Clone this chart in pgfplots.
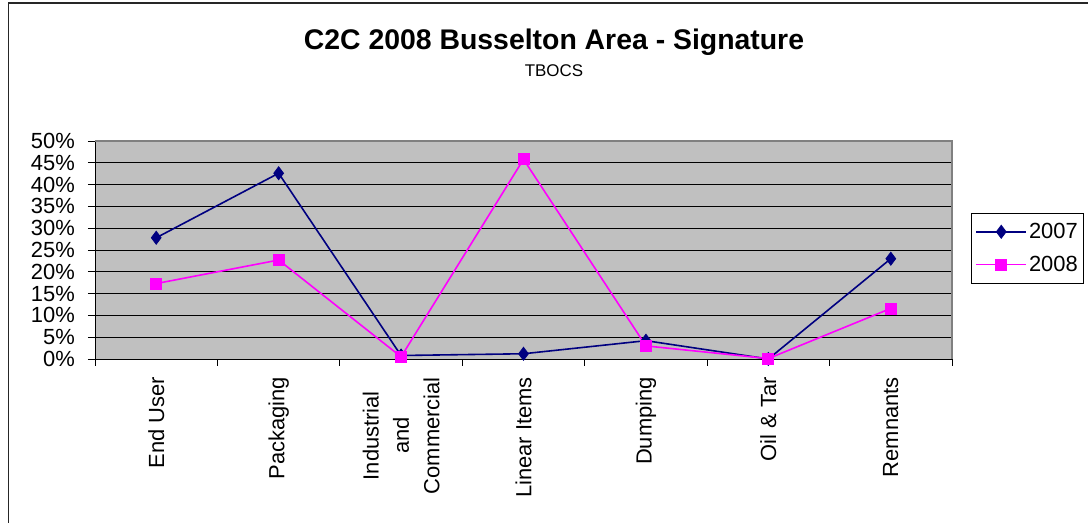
\documentclass[border=0pt]{standalone}
\usepackage{fontspec}
\setmainfont{Liberation Sans}
\usepackage{pgfplots}
\pgfplotsset{compat=1.18}
\definecolor{navyc}{HTML}{000080}
\definecolor{magc}{HTML}{FF00FF}
\definecolor{plotgray}{HTML}{C0C0C0}
\definecolor{bordergray}{HTML}{808080}
\begin{document}
\begin{tikzpicture}[x=1bp,y=1bp]
\path[use as bounding box] (0,0) rectangle (1088,523);
\draw[line width=1.4bp, black!85] (8.7,-5) -- (8.7,520) -- (1100,520);
\node[font=\fontsize{28.5}{32}\selectfont\bfseries, anchor=base] at (554,473) {C2C 2008 Busselton Area - Signature};
\node[font=\fontsize{17}{20}\selectfont, anchor=base] at (554,446) {TBOCS};
\begin{axis}[
  at={(95bp,164bp)}, anchor=south west, scale only axis,
  width=857bp, height=218bp,
  xmin=0.5, xmax=7.5, ymin=0, ymax=50,
  clip=false,
  axis background/.style={fill=plotgray},
  axis lines=left, axis line style={-, black, line width=0.8bp},
  tick align=outside,
  ytick={0,5,...,50},
  yticklabels={0\%,5\%,10\%,15\%,20\%,25\%,30\%,35\%,40\%,45\%,50\%},
  ymajorgrids, grid style={black, line width=0.8bp},
  xtick={1,...,7},
  xticklabels={End User, Packaging, Industrial\\and\\Commercial, Linear Items, Dumping, Oil \& Tar, Remnants},
  major x tick style={draw=none},
  minor xtick={0.5,1.5,...,7.5},
  minor x tick style={black, line width=0.8bp},
  major y tick style={black, line width=0.8bp},
  major tick length=7bp, minor tick length=7bp,
  xticklabel style={rotate=90, anchor=east, align=center, font=\fontsize{22}{30.5}\selectfont, inner sep=0pt},
  xticklabel shift=11bp,
  yticklabel style={font=\fontsize{22}{24}\selectfont, inner sep=0pt, anchor=east},
  yticklabel shift=13bp,
  after end axis/.code={\draw[bordergray, line width=1.2bp] (rel axis cs:0,1) -- (rel axis cs:1,1) -- (rel axis cs:1,0);},
  legend style={at={(rel axis cs:1.0222,0.6697)}, anchor=north west, draw=black, line width=0.8bp, fill=white,
    font=\fontsize{22}{24}\selectfont, inner xsep=4bp, inner ysep=8bp, row sep=12bp,
    nodes={inner sep=2bp}},
  legend cell align=left,
  legend image code/.code={\draw[mark repeat=2,mark phase=2,#1] plot coordinates {(0bp,0bp) (25bp,0bp) (50bp,0bp)};},
]
\addplot[color=navyc, line width=1.6bp, mark=diamond*, mark size=6.5bp, mark options={fill=navyc, draw=navyc, line width=0.8bp}]
  coordinates {(1,27.8) (2,42.6) (3,0.8) (4,1.2) (5,4.2) (6,0.0) (7,23.0)};
\addlegendentry{2007\hspace{20bp}}
\addplot[color=magc, line width=1.6bp, mark=square*, mark size=5.5bp, mark options={fill=magc, draw=magc, line width=0.8bp}]
  coordinates {(1,17.3) (2,22.7) (3,0.5) (4,45.8) (5,3.0) (6,0.1) (7,11.6)};
\addlegendentry{2008\hspace{20bp}}
\end{axis}
\end{tikzpicture}
\end{document}
